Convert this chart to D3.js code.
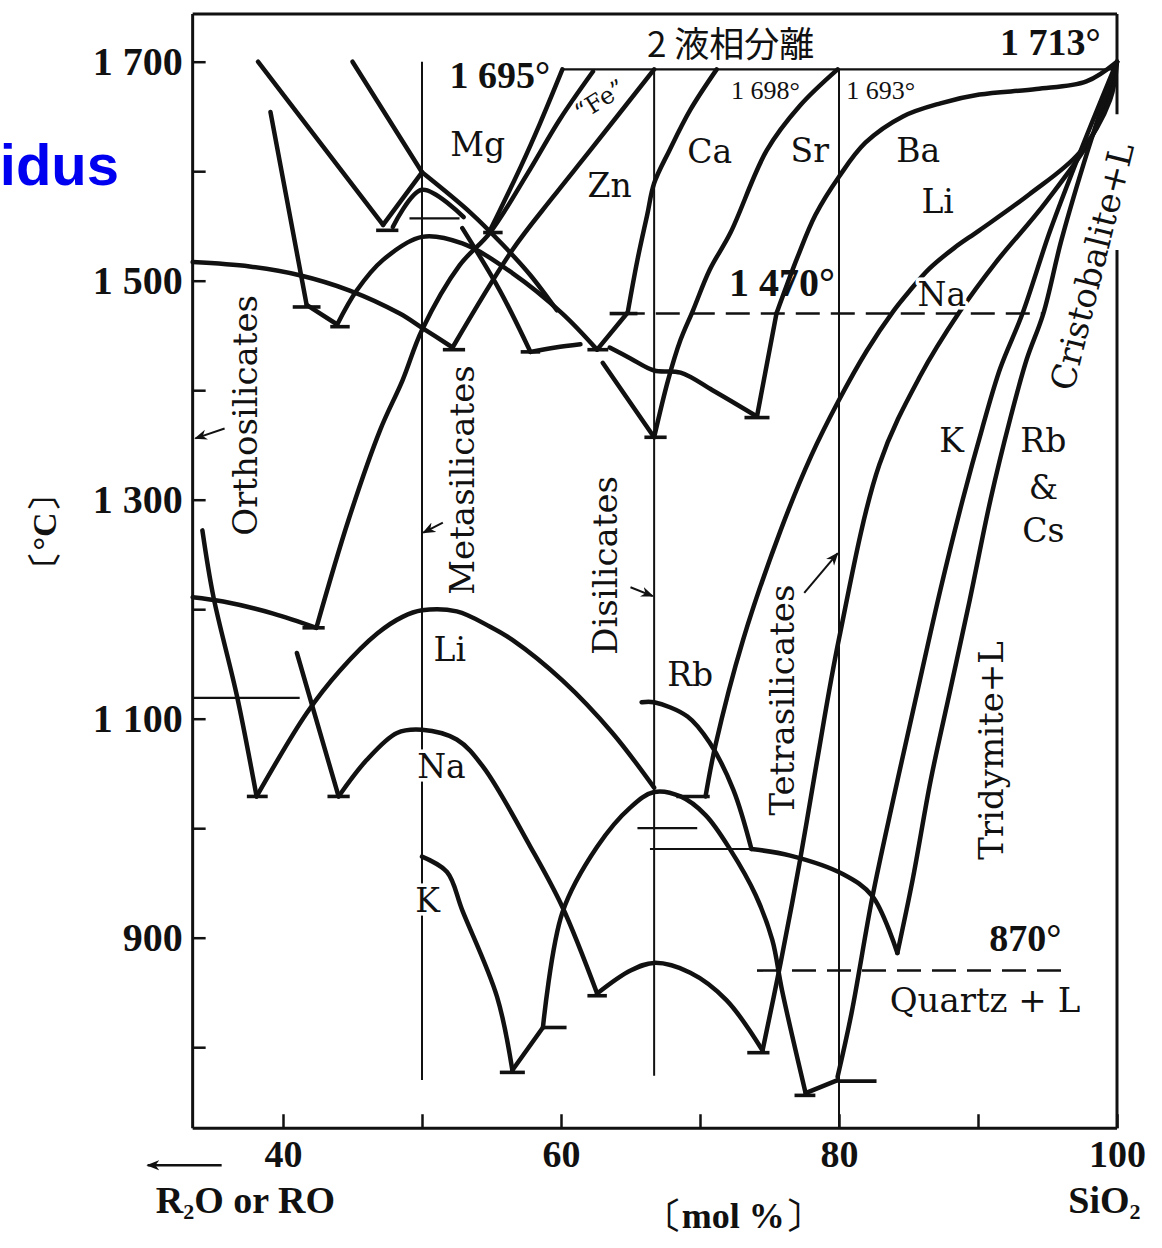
<!DOCTYPE html>
<html lang="ja">
<head>
<meta charset="utf-8">
<title>Liquidus curves of binary silicate systems</title>
<script src="https://cdn.jsdelivr.net/npm/d3@7/dist/d3.min.js"></script>
<style>
  html, body { margin: 0; padding: 0; background: #fff; }
  svg { display: block; }
</style>
</head>
<body>
<svg id="chart" width="1162" height="1248"></svg>
<script>
// ---------- axis values ----------
const yTicks = [800, 900, 1000, 1100, 1200, 1300, 1400, 1500, 1600, 1700];
const yTickLabels = ["", "900", "", "1 100", "", "1 300", "", "1 500", "", "1 700"];
const xTicks = [40, 50, 60, 70, 80, 90, 100];
const xTickLabels = ["40", "", "60", "", "80", "", "100"];

// compound compositions (meta-, di-, tetrasilicate), mol% SiO2, and their °C span
const compositionX = [50, 66.7, 80];
const compositionTop = [1700, 1693, 1693];
const compositionBottom = [770, 774, 726];

// ---------- liquidus curves: [mol% SiO2, °C] ----------
const ortho1500 = [[33.5,1517],[37.6,1513],[41.2,1505],[44.8,1491],[48.4,1470],[50,1457],[52.2,1439]];
const mgLeftDrop = [[39.1,1654],[41.7,1478]];
const mgLeftFoot = [[41.7,1478],[43.9,1460]];
const caMetaArc = [[43.9,1460],[45.3,1491],[47.2,1519],[50,1540],[52.9,1534],[56.5,1507],[60.1,1470],[62.6,1437]];
const znLiquidus = [[52.2,1439],[56.5,1528],[59.4,1576],[62.1,1619],[66.7,1693]];
const feLiquidus = [[42.4,1183],[44.7,1281],[47.0,1364],[48.6,1409],[50,1455],[52.7,1514],[54.9,1544],[57.6,1598],[59.9,1647],[62.3,1691]];
const mgLiquidus = [[54.9,1546],[57.1,1604],[58.5,1644],[60.1,1693]];
const leftDiagA = [[38.2,1700],[47.2,1551]];
const leftDiagB = [[45.0,1700],[50,1599]];
const mgShoulder = [[50,1599],[53.5,1562],[55.8,1533],[57.8,1505],[59.7,1473]];
const mgPeakOuter = [[47.2,1551],[50,1599]];
const mgPeakInner = [[47.9,1549],[50,1583],[53.0,1558]];
const liOrtho = [[33.5,1211],[35.7,1207],[39.3,1196],[42.4,1183]];
const orthoSteep = [[34.2,1272],[35.0,1211],[36.7,1120],[38.1,1029]];
const naOrthoDrop = [[41.0,1160],[44.0,1029]];
const liMetaArc = [[38.1,1029],[41.7,1105],[44.1,1144],[46.8,1178],[48.6,1193],[50,1199],[52.5,1198],[54.9,1184],[56.5,1172],[60.1,1135],[63.7,1087],[66.7,1037]];
const naMetaArc = [[44.0,1029],[46.0,1062],[48.2,1087],[50,1090],[52.5,1081],[54.4,1056],[57.8,983],[60.1,928],[62.6,849]];
const kMetaArc = [[50,974],[51.8,960],[52.9,925],[55.4,846],[56.5,779]];
const kMetaRise = [[56.5,779],[58.7,818]];
const kDiArc = [[58.7,818],[60.1,923],[62.6,983],[65.0,1019],[66.7,1033],[68.6,1029],[70.4,1012],[72.2,980],[74.0,939],[75.2,898],[75.9,852],[77.6,758]];
const kTetraStep = [[77.6,758],[79.9,770]];
const kSilica = [[79.9,773],[80.9,831],[82.4,937],[83.9,1026],[85.5,1117],[87.3,1218],[88.9,1300],[90.3,1365],[91.6,1420],[93.2,1470],[95.2,1546],[97.4,1619],[100,1700]];
const naDiArc = [[62.6,849],[65.0,870],[66.7,877],[69.3,868],[71.9,843],[74.5,797]];
const naSilica = [[74.5,797],[75.8,877],[77.2,971],[78.4,1060],[80,1173],[82.9,1332],[85.8,1412],[88.7,1472],[91.3,1517],[94.9,1572],[98.5,1639],[100,1700]];
const liSilica = [[70.4,1029],[71.1,1075],[73.1,1172],[75.8,1272],[78.0,1340],[80,1391],[82.0,1436],[83.9,1472],[85.1,1491],[86.5,1511],[88.3,1530],[90.1,1546],[93.7,1579],[97.3,1617],[99.5,1665],[100,1700]];
const rbDiArc = [[65.8,1115],[66.7,1115],[69.1,1102],[70.7,1078],[72.4,1035],[73.7,981]];
const rbTetraArc = [[73.7,981],[76.5,975],[80.3,958],[82.4,938],[84.2,886]];
const rbSilica = [[84.2,886],[85.3,953],[86.6,1044],[88.0,1126],[89.4,1208],[90.9,1300],[92.3,1373],[93.5,1428],[94.7,1470],[96.0,1537],[97.9,1619],[100,1700]];
const caStep = [[62.6,1437],[64.8,1471]];
const caSilica = [[64.8,1471],[65.5,1519],[66.2,1560],[66.7,1589],[67.8,1619],[69.3,1656],[71.2,1693]];
const srDrop = [[63.0,1425],[66.7,1357]];
const srSilica = [[66.7,1357],[67.7,1409],[68.6,1446],[69.5,1473],[70.7,1510],[72.2,1544],[74.8,1619],[77.2,1660],[79.9,1693]];
const caDiShoulder = [[63.5,1439],[65.0,1429],[66.7,1418],[68.6,1416],[70.9,1400],[74.1,1376]];
const baStep = [[74.1,1376],[75.5,1470]];
const baSilica = [[75.5,1470],[77.0,1521],[78.3,1560],[80,1595],[81.9,1626],[84.6,1650],[87.3,1662],[90.1,1670],[94.2,1675],[97.8,1682],[100,1700]];
const znMetaDrop = [[52.9,1548],[55.6,1491],[57.8,1435]];
const znFlat = [[57.8,1435],[59.6,1439],[61.4,1442]];

// eutectic / invariant marks: [from mol%, to mol%, °C]
const invariantMarks = [
  [46.7,48.3,1546],[54.4,55.8,1544],[40.7,42.7,1476],[43.4,44.8,1458],[51.5,53.1,1437],
  [57.1,58.5,1435],[61.9,63.4,1437],[63.5,65.5,1470],[66.0,67.6,1357],[73.2,75.0,1375],
  [41.4,43.0,1183],[37.4,38.9,1029],[43.2,44.8,1029],[61.9,63.3,847],[55.6,57.4,777],
  [58.7,60.4,818],[68.3,70.7,1029],[73.4,75.0,795],[76.8,78.3,756],[79.9,82.7,769],[65.8,66.7,1115]
];
// thin isothermal tie lines: [from mol%, to mol%, °C]
const tieLines = [[33.5,41.2,1119],[65.5,69.8,1000],[66.4,73.7,981],[49.1,52.7,1557],[60.1,100,1693]];
// polymorphic transitions (dashed): [from mol%, to mol%, °C]
const transitions = [[64.3,94.8,1470],[74.1,96.7,870]];
// pointer arrows: [from mol%, from °C, to mol%, to °C]
const pointers = [[35.8,1365,33.7,1356],[51.5,1279,50.1,1270],[65.0,1220,66.6,1212],[77.5,1215,79.9,1251]];

// ---------- text annotations ----------
const elementLabels = ["Mg","Zn","Ca","Sr","Ba","Li","Na","K","Rb","&","Cs","Li","Na","K","Rb"];
const elementX = [54.0,63.5,70.7,77.9,85.7,87.1,87.4,88.1,94.7,94.7,94.7,52.0,51.4,50.4,69.3];
const elementT = [1624,1587,1618,1619,1619,1572,1487,1354,1354,1311,1272,1163,1056,934,1140];
const tempNotes = ["1 695°","1 698°","1 693°","1 470°","870°","1 713°"];
const tempNoteX = [55.6,74.7,83.0,75.9,93.4,95.2];
const tempNoteT = [1688,1674,1674,1498,900,1718];
const regionLabels = ["Orthosilicates","Metasilicates","Disilicates","Tetrasilicates","Tridymite+L","Cristobalite+L"];
const regionX = [37.3,52.9,63.2,75.9,90.9,98.2];
const regionT = [1377,1318,1240,1117,1071,1513];

// ---------- drawing ----------
const svg = d3.select("#chart");
const ink = "#111";
const serif = "'DejaVu Serif', 'Liberation Serif', serif";
const numFont = "'Liberation Serif', 'DejaVu Serif', serif";
const cjk = "'Noto Sans CJK JP', 'Noto Sans CJK SC', sans-serif";

const x = d3.scaleLinear().domain([40, 100]).range([283, 1117]);
const y = d3.scaleLinear().domain([800, 1700]).range([1047.2, 61.7]);
const xLeft = 33.5, tBottom = 726, tTop = 1743.6;

// partially visible heading on the left
svg.append("text")
  .attr("x", 119).attr("y", 185).attr("text-anchor", "end")
  .attr("font-family", "'Liberation Sans', Arial, sans-serif")
  .attr("font-weight", "bold").attr("font-size", 58).attr("fill", "#0000f0")
  .text("idus");

const defs = svg.append("defs");
defs.append("marker").attr("id", "tip")
  .attr("viewBox", "0 0 10 10").attr("refX", 9).attr("refY", 5)
  .attr("markerUnits", "userSpaceOnUse").attr("markerWidth", 13).attr("markerHeight", 13)
  .attr("orient", "auto")
  .append("path").attr("d", "M0,1 L10,5 L0,9 L3,5 Z").attr("fill", ink);

// frame (right edge interrupted where the cristobalite label sits)
const frame = svg.append("g").attr("stroke", ink).attr("stroke-width", 3).attr("fill", "none");
frame.append("line").attr("x1", x(xLeft)).attr("x2", x(xLeft)).attr("y1", y(tTop)).attr("y2", y(tBottom));
frame.append("line").attr("x1", x(xLeft)).attr("x2", x(100)).attr("y1", y(tTop)).attr("y2", y(tTop));
frame.append("line").attr("x1", x(xLeft)).attr("x2", x(100)).attr("y1", y(tBottom)).attr("y2", y(tBottom));
frame.append("line").attr("x1", x(100)).attr("x2", x(100)).attr("y1", y(tTop)).attr("y2", y(1652));
frame.append("line").attr("x1", x(100)).attr("x2", x(100)).attr("y1", y(1528)).attr("y2", y(tBottom));

// axes with inward ticks
const gy = svg.append("g").attr("transform", `translate(${x(xLeft)},0)`)
  .call(d3.axisLeft(y).tickValues(yTicks).tickSize(-13).tickSizeOuter(0).tickPadding(10)
    .tickFormat((d, i) => yTickLabels[i]));
gy.select(".domain").remove();
gy.selectAll(".tick line").attr("stroke", ink).attr("stroke-width", 2.5);
gy.selectAll(".tick text").attr("font-family", numFont).attr("font-weight", "bold")
  .attr("font-size", 40).attr("fill", ink);

const gx = svg.append("g").attr("transform", `translate(0,${y(tBottom)})`)
  .call(d3.axisBottom(x).tickValues(xTicks).tickSize(-14).tickSizeOuter(0).tickPadding(12)
    .tickFormat((d, i) => xTickLabels[i]));
gx.select(".domain").remove();
gx.selectAll(".tick line").attr("stroke", ink).attr("stroke-width", 2.5);
gx.selectAll(".tick text").attr("font-family", numFont).attr("font-weight", "bold")
  .attr("font-size", 38).attr("fill", ink);

// compound composition verticals
svg.append("g").attr("stroke", ink).attr("stroke-width", 2)
  .selectAll("line").data(compositionX).join("line")
  .attr("x1", d => x(d)).attr("x2", d => x(d))
  .attr("y1", (d, i) => y(compositionTop[i])).attr("y2", (d, i) => y(compositionBottom[i]));

// thin tie lines
svg.append("g").attr("stroke", ink).attr("stroke-width", 2.2)
  .selectAll("line").data(tieLines).join("line")
  .attr("x1", d => x(d[0])).attr("x2", d => x(d[1]))
  .attr("y1", d => y(d[2])).attr("y2", d => y(d[2]));

// dashed transition isotherms
svg.append("g").attr("stroke", ink).attr("stroke-width", 2.6).attr("stroke-dasharray", "24 11")
  .selectAll("line").data(transitions).join("line")
  .attr("x1", d => x(d[0])).attr("x2", d => x(d[1]))
  .attr("y1", d => y(d[2])).attr("y2", d => y(d[2]));

// liquidus curves
const liquidus = [
  ortho1500, mgLeftDrop, mgLeftFoot, caMetaArc, znLiquidus, feLiquidus, mgLiquidus,
  leftDiagA, leftDiagB, mgShoulder, mgPeakOuter, mgPeakInner, liOrtho, orthoSteep,
  naOrthoDrop, liMetaArc, naMetaArc, kMetaArc, kMetaRise, kDiArc, kTetraStep, kSilica,
  naDiArc, naSilica, liSilica, rbDiArc, rbTetraArc, rbSilica, caStep, caSilica, srDrop,
  srSilica, caDiShoulder, baStep, baSilica, znMetaDrop, znFlat
];
const curve = d3.line().x(d => x(d[0])).y(d => y(d[1])).curve(d3.curveCatmullRom.alpha(0.5));
svg.append("g").attr("fill", "none").attr("stroke", ink).attr("stroke-width", 4.5)
  .attr("stroke-linejoin", "round").attr("stroke-linecap", "round")
  .selectAll("path").data(liquidus).join("path").attr("d", curve);

// invariant point marks
svg.append("g").attr("stroke", ink).attr("stroke-width", 3.6)
  .selectAll("line").data(invariantMarks).join("line")
  .attr("x1", d => x(d[0])).attr("x2", d => x(d[1]))
  .attr("y1", d => y(d[2])).attr("y2", d => y(d[2]));

// pointer arrows
svg.append("g").attr("stroke", ink).attr("stroke-width", 2)
  .selectAll("line").data(pointers).join("line")
  .attr("x1", d => x(d[0])).attr("y1", d => y(d[1]))
  .attr("x2", d => x(d[2])).attr("y2", d => y(d[3]))
  .attr("marker-end", "url(#tip)");

function halo(sel, w) {
  sel.attr("stroke", "#fff").attr("stroke-width", w).attr("stroke-linejoin", "round")
     .attr("paint-order", "stroke");
}

// element labels
svg.append("g").selectAll("text").data(elementLabels).join("text")
  .attr("x", (d, i) => x(elementX[i])).attr("y", (d, i) => y(elementT[i]))
  .attr("text-anchor", "middle").attr("dominant-baseline", "central")
  .attr("font-family", serif).attr("font-size", 33).attr("fill", ink)
  .text(d => d).call(halo, 7);

// "Fe" label along its curve
svg.append("text")
  .attr("transform", `translate(${x(62.8)},${y(1665)}) rotate(-32)`)
  .attr("text-anchor", "middle").attr("dominant-baseline", "central")
  .attr("font-family", serif).attr("font-size", 24).attr("fill", ink)
  .text("\u201cFe\u201d").call(halo, 5);

// temperature notes
const noteSizes = [38, 26, 26, 40, 38, 38];
const noteWeights = ["bold", "normal", "normal", "bold", "bold", "bold"];
svg.append("g").selectAll("text").data(tempNotes).join("text")
  .attr("x", (d, i) => x(tempNoteX[i])).attr("y", (d, i) => y(tempNoteT[i]))
  .attr("text-anchor", "middle").attr("dominant-baseline", "central")
  .attr("font-family", numFont).attr("font-weight", (d, i) => noteWeights[i])
  .attr("font-size", (d, i) => noteSizes[i]).attr("fill", ink)
  .text(d => d);

// two-liquid region caption
svg.append("text")
  .attr("x", x(72.2)).attr("y", y(1718))
  .attr("text-anchor", "middle").attr("dominant-baseline", "central")
  .attr("font-family", cjk).attr("font-size", 35).attr("fill", ink)
  .text("2 液相分離");

// quartz field caption
svg.append("text")
  .attr("x", x(90.5)).attr("y", y(843))
  .attr("text-anchor", "middle").attr("dominant-baseline", "central")
  .attr("font-family", serif).attr("font-size", 34).attr("fill", ink)
  .text("Quartz + L");

// rotated region captions (the cristobalite one leans with the converging curves)
const regionAngles = [-90, -90, -90, -90, -90, -76];
svg.append("g").selectAll("text").data(regionLabels).join("text")
  .attr("transform", (d, i) => `translate(${x(regionX[i])},${y(regionT[i])}) rotate(${regionAngles[i]})`)
  .attr("text-anchor", "middle").attr("dominant-baseline", "central")
  .attr("font-family", serif).attr("font-size", 34).attr("fill", ink)
  .text(d => d);

// axis captions
const axisBase = y(tBottom);
svg.append("text")
  .attr("transform", `translate(${x(xLeft) - 148},${y(1271)}) rotate(-90)`)
  .attr("text-anchor", "middle").attr("dominant-baseline", "central")
  .attr("font-family", numFont).attr("font-weight", "bold").attr("font-size", 34).attr("fill", ink)
  .text("〔°C〕");

svg.append("line")
  .attr("x1", x(xLeft) + 29).attr("x2", x(xLeft) - 45)
  .attr("y1", axisBase + 37).attr("y2", axisBase + 37)
  .attr("stroke", ink).attr("stroke-width", 2.4).attr("marker-end", "url(#tip)");

const r2o = svg.append("text")
  .attr("x", x(37.3)).attr("y", axisBase + 85).attr("text-anchor", "middle")
  .attr("font-family", numFont).attr("font-weight", "bold").attr("font-size", 38).attr("fill", ink);
r2o.append("tspan").text("R");
r2o.append("tspan").attr("font-size", 22).attr("dy", 6).text("2");
r2o.append("tspan").attr("dy", -6).text("O or RO");

svg.append("text")
  .attr("x", x(72.4)).attr("y", axisBase + 100).attr("text-anchor", "middle")
  .attr("font-family", numFont).attr("font-weight", "bold").attr("font-size", 36).attr("fill", ink)
  .text("〔mol  %〕");

const sio2 = svg.append("text")
  .attr("x", x(99.1)).attr("y", axisBase + 85).attr("text-anchor", "middle")
  .attr("font-family", numFont).attr("font-weight", "bold").attr("font-size", 38).attr("fill", ink);
sio2.append("tspan").text("SiO");
sio2.append("tspan").attr("font-size", 22).attr("dy", 6).text("2");
</script>
</body>
</html>
